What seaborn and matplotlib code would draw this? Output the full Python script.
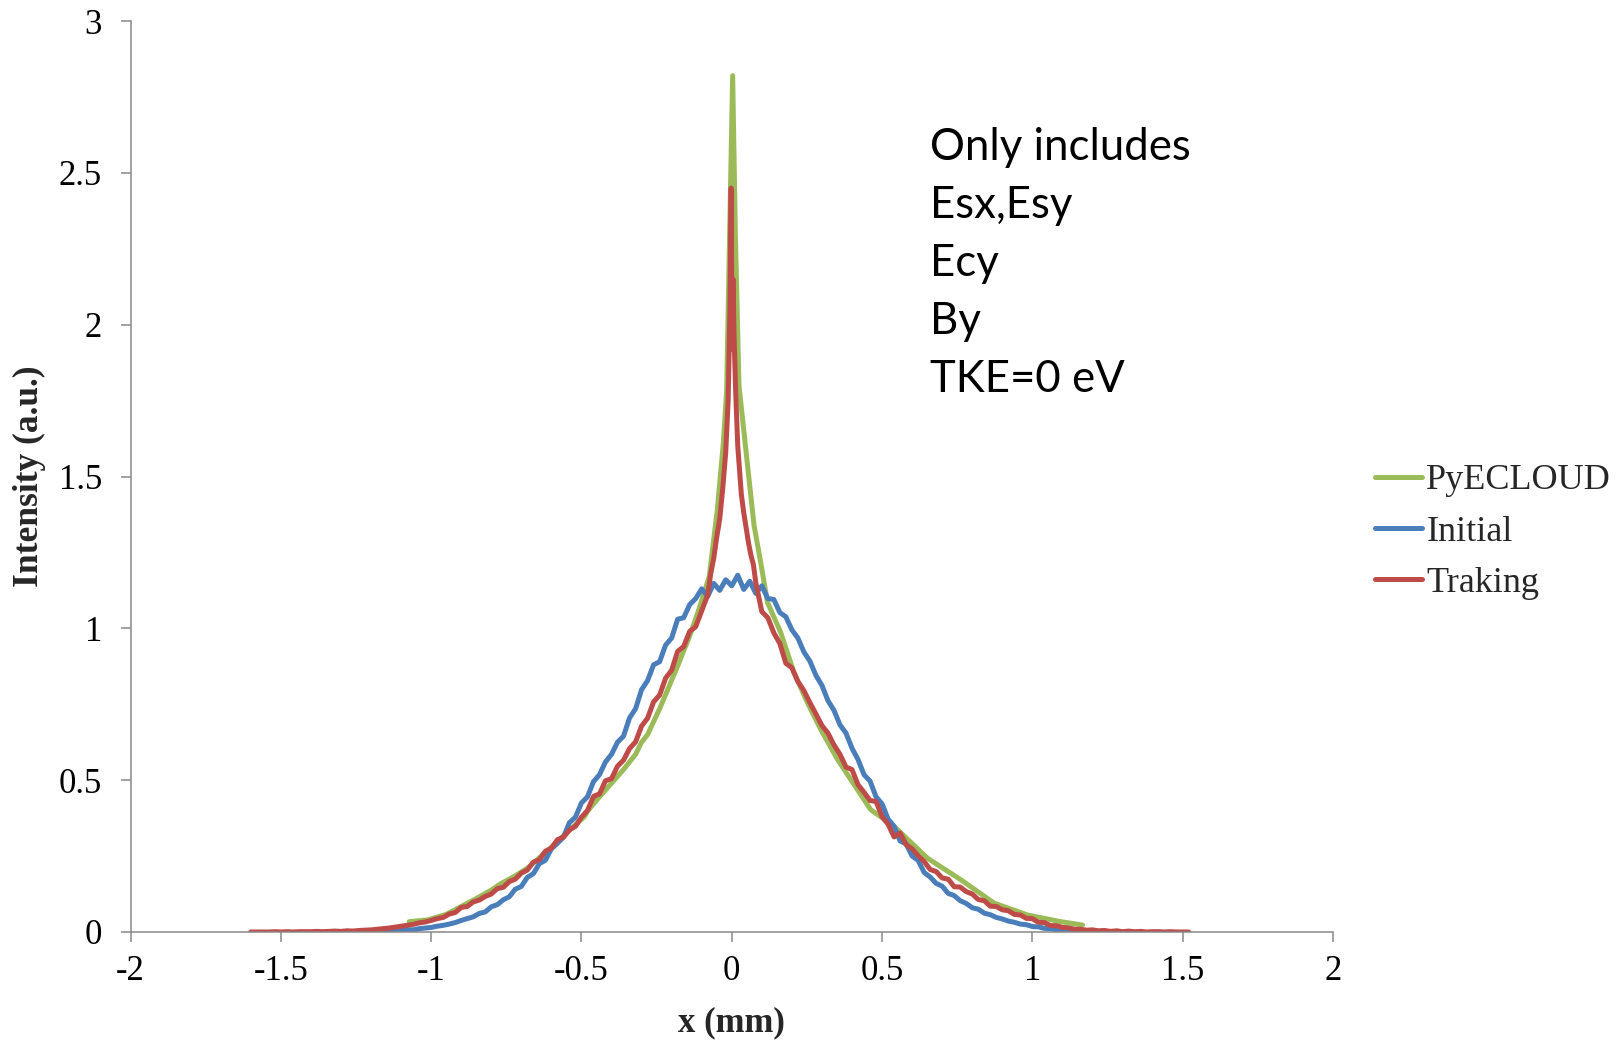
import numpy as np
import pandas as pd
import matplotlib
matplotlib.use("Agg")
import matplotlib.pyplot as plt
import seaborn as sns

# ---------------- data ----------------
series_names = ["PyECLOUD", "Initial", "Traking"]
series_colors = ["#9BBB59", "#4A7EBB", "#BE4B48"]

# PyECLOUD (smooth simulation profile)
green_x = [-1.073, -1.01, -0.95, -0.90, -0.85, -0.80, -0.77, -0.72, -0.68, -0.61,
           -0.55, -0.49, -0.48, -0.44, -0.40, -0.36, -0.32, -0.30, -0.28, -0.24,
           -0.18, -0.14, -0.11, -0.075, -0.048, -0.028, -0.017, -0.008, 0.003, 0.012,
           0.024, 0.05, 0.074, 0.094, 0.119, 0.163, 0.207, 0.252, 0.296, 0.352,
           0.418, 0.462, 0.54, 0.651, 0.762, 0.873, 0.984, 1.094, 1.167]
green_y = [0.034, 0.040, 0.058, 0.084, 0.110, 0.138, 0.158, 0.185, 0.210, 0.270,
           0.326, 0.380, 0.398, 0.445, 0.490, 0.535, 0.585, 0.625, 0.650, 0.735,
           0.876, 0.975, 1.060, 1.170, 1.390, 1.610, 1.780, 2.250, 2.820, 2.300,
           1.800, 1.560, 1.340, 1.230, 1.085, 0.986, 0.854, 0.755, 0.667, 0.568,
           0.469, 0.403, 0.348, 0.243, 0.172, 0.095, 0.056, 0.034, 0.023]

# Initial (x from -1.36 in steps of 0.02)
blue_x0, blue_dx = -1.36, 0.02
blue_y = [0.000, 0.001, 0.000, 0.001, 0.001, 0.002, 0.001, 0.002, 0.003, 0.002,
          0.004, 0.003, 0.005, 0.006, 0.008, 0.007, 0.011, 0.013, 0.015, 0.019,
          0.022, 0.026, 0.031, 0.038, 0.044, 0.050, 0.061, 0.066, 0.083, 0.090,
          0.106, 0.116, 0.141, 0.150, 0.180, 0.192, 0.225, 0.236, 0.274, 0.292,
          0.312, 0.360, 0.378, 0.425, 0.445, 0.495, 0.518, 0.560, 0.585, 0.625,
          0.645, 0.705, 0.735, 0.798, 0.828, 0.880, 0.890, 0.945, 0.968, 1.030,
          1.035, 1.078, 1.098, 1.130, 1.105, 1.148, 1.125, 1.160, 1.140, 1.175,
          1.128, 1.155, 1.115, 1.140, 1.098, 1.095, 1.052, 1.038, 0.995, 0.968,
          0.922, 0.892, 0.845, 0.812, 0.762, 0.730, 0.682, 0.655, 0.605, 0.568,
          0.518, 0.497, 0.445, 0.422, 0.372, 0.348, 0.300, 0.290, 0.250, 0.236,
          0.196, 0.181, 0.160, 0.151, 0.127, 0.120, 0.103, 0.094, 0.080, 0.075,
          0.062, 0.057, 0.048, 0.043, 0.036, 0.032, 0.026, 0.024, 0.018, 0.017,
          0.012, 0.011, 0.007, 0.007, 0.004, 0.003, 0.002, 0.001, 0.000]

# Traking: left tail (from -1.60, step 0.02), peak samples, right tail (from 0.08, step 0.02)
red_left_x0, red_dx = -1.60, 0.02
red_left_y = [0.000, 0.000, 0.000, 0.000, 0.001, 0.000, 0.001, 0.000, 0.001, 0.001,
              0.001, 0.002, 0.001, 0.002, 0.003, 0.002, 0.004, 0.003, 0.005, 0.006,
              0.007, 0.009, 0.011, 0.013, 0.016, 0.019, 0.022, 0.025, 0.030, 0.033,
              0.038, 0.044, 0.048, 0.059, 0.064, 0.081, 0.084, 0.099, 0.105, 0.117,
              0.125, 0.143, 0.147, 0.166, 0.174, 0.194, 0.204, 0.230, 0.238, 0.266,
              0.276, 0.304, 0.312, 0.336, 0.348, 0.378, 0.400, 0.446, 0.455, 0.498,
              0.505, 0.546, 0.566, 0.604, 0.626, 0.678, 0.704, 0.758, 0.780, 0.836,
              0.862, 0.924, 0.940, 0.990, 1.005, 1.058, 1.110]
red_peak_x = [-0.07, -0.06, -0.05, -0.04, -0.03, -0.02, -0.012, -0.006, -0.002, 0.001,
              0.004, 0.008, 0.013, 0.02, 0.028, 0.032, 0.04, 0.048, 0.056, 0.064, 0.072]
red_peak_y = [1.18, 1.23, 1.30, 1.36, 1.46, 1.58, 1.75, 2.05, 2.45, 1.92,
              2.15, 1.95, 1.78, 1.60, 1.49, 1.44, 1.38, 1.33, 1.28, 1.24, 1.21]
red_right_x0 = 0.08
red_right_y = [1.150, 1.055, 1.035, 0.985, 0.950, 0.885, 0.870, 0.825, 0.795, 0.755,
               0.718, 0.680, 0.655, 0.616, 0.585, 0.543, 0.535, 0.485, 0.460, 0.433,
               0.430, 0.380, 0.355, 0.313, 0.326, 0.288, 0.274, 0.251, 0.232, 0.206,
               0.199, 0.178, 0.174, 0.149, 0.148, 0.133, 0.125, 0.107, 0.103, 0.085,
               0.084, 0.073, 0.070, 0.058, 0.056, 0.045, 0.044, 0.032, 0.031, 0.021,
               0.021, 0.015, 0.014, 0.009, 0.009, 0.006, 0.007, 0.004, 0.005, 0.002,
               0.004, 0.001, 0.003, 0.001, 0.002, 0.000, 0.001, 0.001, 0.000, 0.001,
               0.000, 0.000, 0.000]

x_ticks = [-2, -1.5, -1, -0.5, 0, 0.5, 1, 1.5, 2]
x_tick_labels = ["-2", "-1.5", "-1", "-0.5", "0", "0.5", "1", "1.5", "2"]
y_ticks = [0, 0.5, 1, 1.5, 2, 2.5, 3]
y_tick_labels = ["0", "0.5", "1", "1.5", "2", "2.5", "3"]
note_lines = ["Only includes", "Esx,Esy", "Ecy", "By", "TKE=0 eV"]

# ---------------- build frame ----------------
blue_x = blue_x0 + blue_dx * np.arange(len(blue_y))
red_x = np.concatenate([red_left_x0 + red_dx * np.arange(len(red_left_y)),
                        red_peak_x,
                        red_right_x0 + red_dx * np.arange(len(red_right_y))])
red_y = np.concatenate([red_left_y, red_peak_y, red_right_y])

df = pd.concat([
    pd.DataFrame({"x": green_x, "y": green_y, "series": "PyECLOUD"}),
    pd.DataFrame({"x": blue_x, "y": blue_y, "series": "Initial"}),
    pd.DataFrame({"x": red_x, "y": red_y, "series": "Traking"}),
], ignore_index=True)

# ---------------- plot ----------------
sns.set_theme(style="white")
plt.rcParams["font.family"] = ["Liberation Serif", "DejaVu Serif"]
plt.rcParams["axes.unicode_minus"] = False

W, H = 1624, 1041
fig = plt.figure(figsize=(W / 100, H / 100), dpi=100)
ax = fig.add_axes([130.5 / W, 1 - 932 / H, (1333 - 130.5) / W, (932 - 21) / H])

LW = 3.6
sns.lineplot(data=df, x="x", y="y", hue="series", hue_order=series_names,
             palette=series_colors, estimator=None, sort=False, units="series",
             linewidth=LW, ax=ax, legend=True)
for ln in ax.get_lines():
    ln.set_solid_joinstyle("round")
    ln.set_solid_capstyle("round")

ax.set_xlim(-2, 2)
ax.set_ylim(0, 3)
ax.set_xticks(x_ticks)
ax.set_xticklabels(x_tick_labels)
ax.set_yticks(y_ticks)
ax.set_yticklabels(y_tick_labels)

spine_col = "#898989"
for s in ["top", "right"]:
    ax.spines[s].set_visible(False)
for s in ["left", "bottom"]:
    ax.spines[s].set_color(spine_col)
    ax.spines[s].set_linewidth(1.1)
ax.tick_params(axis="both", direction="out", length=7.5, width=1.1, color=spine_col,
               labelsize=25, labelcolor="black")
ax.tick_params(axis="y", pad=13, left=True)
ax.tick_params(axis="x", pad=9, bottom=True)

ax.set_xlabel("x (mm)", fontsize=25, fontweight="bold")
ax.set_ylabel("Intensity (a.u.)", fontsize=25.5, fontweight="bold")
ax.xaxis.set_label_coords(731 / W, 1 - 1023 / H, transform=fig.transFigure)
ax.yaxis.set_label_coords(29 / W, 1 - 476 / H, transform=fig.transFigure)
ax.xaxis.label.set_va("center")
ax.yaxis.label.set_va("center")

leg = ax.legend(loc="center left", bbox_to_anchor=(1375 / W, 1 - 532 / H),
                bbox_transform=fig.transFigure, frameon=False, fontsize=26,
                handlelength=1.3, handletextpad=0.12, labelspacing=0.5,
                borderpad=0, borderaxespad=0)
for line in leg.get_lines():
    line.set_linewidth(LW)

baselines = [159.5, 217.5, 275.5, 333.5, 391.5]
for txt, b in zip(note_lines, baselines):
    fig.text(930 / W, 1 - b / H, txt, fontsize=31.5, family=["Lato", "DejaVu Sans"],
             va="baseline", ha="left", color="black")

fig.savefig("out.png", dpi=100)
